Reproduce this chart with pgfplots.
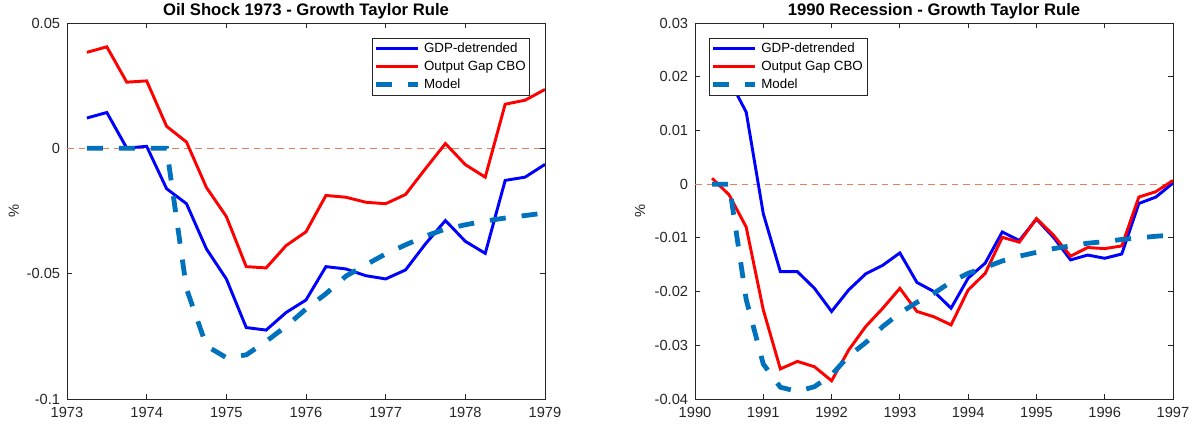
\documentclass[border=0pt]{standalone}
\usepackage{pgfplots}
\pgfplotsset{compat=1.18}
\usepackage{pgfplotstable}
\usepackage{fontspec}
\setmainfont{Liberation Sans}
\definecolor{mblue}{RGB}{0,0,255}
\definecolor{mred}{RGB}{255,0,0}
\definecolor{mmodel}{RGB}{0,114,189}
\definecolor{mzero}{RGB}{226,128,96}
\definecolor{maxis}{RGB}{38,38,38}

\pgfplotstableread{
x blue red model
1973.25 0.0121 0.0383 0
1973.5 0.0143 0.0405 0
1973.75 0.0001 0.0264 0
1974.0 0.0008 0.0269 0
1974.25 -0.0161 0.0088 0
1974.5 -0.0221 0.0025 -0.0560
1974.75 -0.0401 -0.0156 -0.0788
1975.0 -0.0521 -0.0272 -0.0835
1975.25 -0.0715 -0.0472 -0.0824
1975.5 -0.0725 -0.0477 -0.0770
1975.75 -0.0655 -0.0388 -0.0710
1976.0 -0.0605 -0.0333 -0.0641
1976.25 -0.0472 -0.0188 -0.0580
1976.5 -0.0481 -0.0195 -0.0510
1976.75 -0.0508 -0.0215 -0.0465
1977.0 -0.0521 -0.0221 -0.0421
1977.25 -0.0485 -0.0184 -0.0385
1977.5 -0.0381 -0.0081 -0.0350
1977.75 -0.0288 0.0019 -0.0322
1978.0 -0.0371 -0.0065 -0.0305
1978.25 -0.0419 -0.0115 -0.0290
1978.5 -0.0128 0.0176 -0.0278
1978.75 -0.0115 0.0192 -0.0268
1979.0 -0.0064 0.0235 -0.0258
}\oilshock

\pgfplotstableread{
x blue red model
1990.25 0.0220 0.0011 0
1990.5 0.0195 -0.0020 0
1990.75 0.0134 -0.0080 -0.0215
1991.0 -0.0055 -0.0234 -0.0335
1991.25 -0.0163 -0.0344 -0.0378
1991.5 -0.0163 -0.0330 -0.0386
1991.75 -0.0194 -0.0340 -0.0377
1992.0 -0.0237 -0.0366 -0.0355
1992.25 -0.0197 -0.0309 -0.0320
1992.5 -0.0167 -0.0265 -0.0295
1992.75 -0.0151 -0.0231 -0.0265
1993.0 -0.0128 -0.0194 -0.0240
1993.25 -0.0183 -0.0237 -0.0220
1993.5 -0.0200 -0.0247 -0.0203
1993.75 -0.0231 -0.0262 -0.0182
1994.0 -0.0175 -0.0197 -0.0166
1994.25 -0.0147 -0.0166 -0.0155
1994.5 -0.0089 -0.0099 -0.0143
1994.75 -0.0105 -0.0108 -0.0134
1995.0 -0.0065 -0.0064 -0.0127
1995.25 -0.0099 -0.0095 -0.0120
1995.5 -0.0141 -0.0134 -0.0115
1995.75 -0.0132 -0.0118 -0.0110
1996.0 -0.0138 -0.0120 -0.0107
1996.25 -0.0130 -0.0115 -0.0103
1996.5 -0.0036 -0.0024 -0.0100
1996.75 -0.0024 -0.0014 -0.0097
1997.0 0.0002 0.0007 -0.0095
}\recession

\pgfplotsset{
  mstyle/.style={
    scale only axis, width=358.5pt, height=282pt, anchor=south west,
    clip mode=individual,
    axis line style={draw=maxis, line width=0.6pt},
    tick style={draw=maxis, line width=0.6pt},
    major tick length=3.75pt,
    tick align=inside, tick pos=both,
    scaled y ticks=false, scaled x ticks=false,
    ticklabel style={font=\fontsize{11}{13}\selectfont, text=maxis},
    yticklabel style={inner sep=0pt, xshift=-5pt},
    xticklabel style={inner sep=0pt, yshift=-5.75pt},
    ylabel={\%},
    ylabel style={font=\fontsize{11}{13}\selectfont, text=maxis, anchor=center, inner sep=0pt},
    legend style={draw=maxis, line width=0.5pt, fill=white,
      font=\fontsize{10}{11}\selectfont, inner xsep=1pt, inner ysep=1pt,
      column sep=1pt, row sep=0pt, nodes={inner xsep=2pt, inner ysep=2.4pt}},
    legend cell align=left,
    legend image code/.code={\draw[#1] (0pt,0pt) -- (31.5pt,0pt);},
  },
  zeroline/.style={mzero, line width=0.75pt, dash pattern=on 5pt off 3.75pt, forget plot},
  gdp/.style={mblue, line width=2.2pt},
  cbo/.style={mred, line width=2.2pt},
  model/.style={mmodel, line width=3.6pt, dash pattern=on 12pt off 12pt},
}

\begin{document}
\begin{tikzpicture}
\useasboundingbox (0,0) rectangle (897pt,322.5pt);
\begin{axis}[mstyle, at={(50.25pt,23.25pt)},
  xmin=1973, xmax=1979, ymin=-0.1, ymax=0.05,
  xtick={1973,1974,1975,1976,1977,1978,1979},
  xticklabels={1973,1974,1975,1976,1977,1978,1979},
  ytick={-0.1,-0.05,0,0.05},
  yticklabels={-0.1,-0.05,0,0.05},
  ylabel style={at={(axis description cs:-0.111,0.5)}},
  legend style={at={(0.9686,0.960)}, anchor=north east},
]
\addplot[zeroline] coordinates {(1973,0) (1979,0)};
\addplot[gdp] table[x=x,y=blue] {\oilshock};
\addplot[cbo] table[x=x,y=red] {\oilshock};
\addplot[model] table[x=x,y=model] {\oilshock};
\legend{GDP-detrended,Output Gap CBO,Model}
\node[font=\bfseries\fontsize{12.5}{14}\selectfont, anchor=base, inner sep=0pt]
  at ([yshift=6pt]rel axis cs:0.5,1) {Oil Shock 1973 - Growth Taylor Rule};
\end{axis}
\begin{axis}[mstyle, at={(521.25pt,23.25pt)},
  xmin=1990, xmax=1997, ymin=-0.04, ymax=0.03,
  xtick={1990,1991,1992,1993,1994,1995,1996,1997},
  xticklabels={1990,1991,1992,1993,1994,1995,1996,1997},
  ytick={-0.04,-0.03,-0.02,-0.01,0,0.01,0.02,0.03},
  yticklabels={-0.04,-0.03,-0.02,-0.01,0,0.01,0.02,0.03},
  ylabel style={at={(axis description cs:-0.115,0.5)}},
  legend style={at={(0.029,0.960)}, anchor=north west},
]
\addplot[zeroline] coordinates {(1990,0) (1997,0)};
\addplot[gdp] table[x=x,y=blue] {\recession};
\addplot[cbo] table[x=x,y=red] {\recession};
\addplot[model] table[x=x,y=model] {\recession};
\legend{GDP-detrended,Output Gap CBO,Model}
\node[font=\bfseries\fontsize{12.5}{14}\selectfont, anchor=base, inner sep=0pt]
  at ([yshift=6pt]rel axis cs:0.5,1) {1990 Recession - Growth Taylor Rule};
\end{axis}
\end{tikzpicture}
\end{document}
